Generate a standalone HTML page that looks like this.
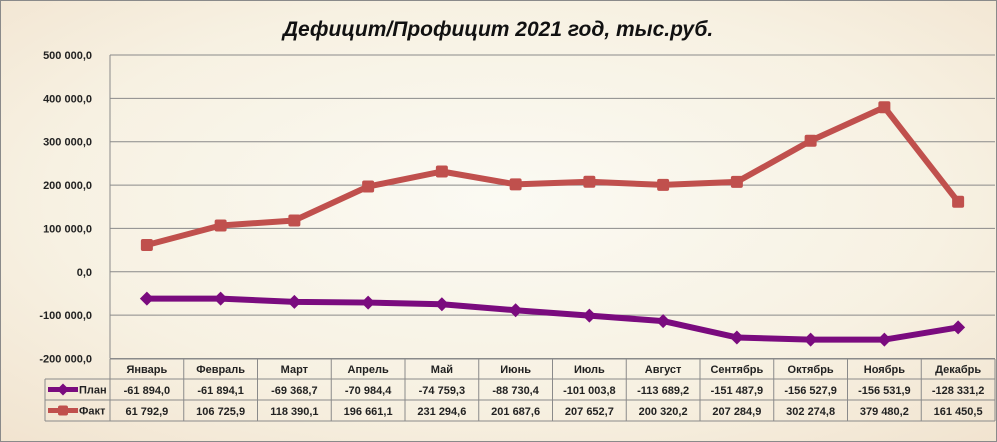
<!DOCTYPE html>
<html><head><meta charset="utf-8"><style>
html,body{margin:0;padding:0;width:997px;height:442px;overflow:hidden}
body{background:#fff}
svg{display:block;font-family:"Liberation Sans",Arial,sans-serif}
</style></head><body>
<svg id="c" width="997" height="442" viewBox="0 0 997 442">
<defs>
<radialGradient id="bg" cx="50%" cy="45%" r="75%">
<stop offset="0" stop-color="#fbfaf3"/><stop offset="0.6" stop-color="#f7f1e2"/><stop offset="1" stop-color="#f1e3cf"/>
</radialGradient>
</defs>
<rect x="0.5" y="0.5" width="996" height="441" fill="url(#bg)" stroke="#8a8a8a"/>
<text x="498" y="36" text-anchor="middle" font-size="21" font-weight="bold" font-style="italic" fill="#111">Дефицит/Профицит 2021 год, тыс.руб.</text>
<g id="grid"></g><g id="ylab"></g><g id="table"></g><g id="series"></g>
</svg>
<script>
const months=["Январь","Февраль","Март","Апрель","Май","Июнь","Июль","Август","Сентябрь","Октябрь","Ноябрь","Декабрь"];
const plan=[-61894.0,-61894.1,-69368.7,-70984.4,-74759.3,-88730.4,-101003.8,-113689.2,-151487.9,-156527.9,-156531.9,-128331.2];
const fact=[61792.9,106725.9,118390.1,196661.1,231294.6,201687.6,207652.7,200320.2,207284.9,302274.8,379480.2,161450.5];
const yTicks=[500000,400000,300000,200000,100000,0,-100000,-200000];
const L=110,R=995,T=55,B=358.5,vmax=500000,vmin=-200000;
const colW=(R-L)/months.length;
const X=i=>L+colW*(i+0.5);
const Y=v=>T+(vmax-v)/(vmax-vmin)*(B-T);
const NS="http://www.w3.org/2000/svg";
function mk(t,a,p){const e=document.createElementNS(NS,t);for(const k in a)e.setAttribute(k,a[k]);p.appendChild(e);return e;}
const fmt=v=>{const s=Math.abs(v).toFixed(1).split(".");const i=s[0].replace(/\B(?=(\d{3})+(?!\d))/g," ");return (v<0?"-":"")+i+","+s[1];};
const g=document.getElementById("grid"),yl=document.getElementById("ylab"),tb=document.getElementById("table"),se=document.getElementById("series");
yTicks.forEach(v=>{
 const ln=mk("line",{x1:L,x2:R,y1:Y(v),y2:Y(v),stroke:"#8a8a8a","stroke-width":1},g);
 
 
 const t=mk("text",{x:92,y:Y(v)+4,"text-anchor":"end","font-size":11,"font-weight":"bold",fill:"#222"},yl);
 t.textContent=fmt(v);
 
 
});
const ax=mk("line",{x1:L,x2:L,y1:T,y2:B,stroke:"#8a8a8a"},g);


// table
const rows=[359,379,400,421];
const tl=[[L,rows[0],R,rows[0]],[45,rows[1],R,rows[1]],[45,rows[2],R,rows[2]],[45,rows[3],R,rows[3]],[45,rows[1],45,rows[3]]];
for(let i=0;i<=months.length;i++)tl.push([L+colW*i,rows[0],L+colW*i,rows[3]]);
tl.forEach(a=>{const l=mk("line",{x1:a[0],y1:a[1],x2:a[2],y2:a[3],stroke:"#8a8a8a"},tb);
 
 });
months.forEach((m,i)=>{
 const t=mk("text",{x:X(i),y:373,"text-anchor":"middle","font-size":11,"font-weight":"bold",fill:"#222"},tb);t.textContent=m;
 
 
 const p=mk("text",{x:X(i),y:394,"text-anchor":"middle","font-size":11,"font-weight":"bold",fill:"#222"},tb);p.textContent=fmt(plan[i]);
 
 
 const f=mk("text",{x:X(i),y:415,"text-anchor":"middle","font-size":11,"font-weight":"bold",fill:"#222"},tb);f.textContent=fmt(fact[i]);
 
 
});
function legend(y,col,label,diamond,name){
 const l=mk("line",{x1:48,x2:78,y1:y,y2:y,stroke:col,"stroke-width":5},tb);
 
 
 const k=diamond?mk("polygon",{points:`63,${y-6} 69,${y} 63,${y+6} 57,${y}`,fill:col},tb):mk("rect",{x:58,y:y-5,width:10,height:10,rx:2,fill:col},tb);
 
 
 const t=mk("text",{x:79,y:y+4,"font-size":11,"font-weight":"bold",fill:"#222"},tb);t.textContent=label;
 
 
}
legend(389.5,"#7a0b7e","План",true,"plan");
legend(410.5,"#c0504d","Факт",false,"fact");
function series(data,col,diamond,name){
 const pl=mk("polyline",{points:data.map((v,i)=>X(i)+","+Y(v)).join(" "),fill:"none",stroke:col,"stroke-width":6,"stroke-linejoin":"round"},se);
 
 
 data.forEach((v,i)=>{const x=X(i),y=Y(v);
  const m=diamond?mk("polygon",{points:`${x},${y-7} ${x+7},${y} ${x},${y+7} ${x-7},${y}`,fill:col},se):mk("rect",{x:x-6,y:y-6,width:12,height:12,rx:2,fill:col},se);
  
  
 });
}
series(fact,"#c0504d",false,"fact");
series(plan,"#7a0b7e",true,"plan");
</script>
</body></html>
